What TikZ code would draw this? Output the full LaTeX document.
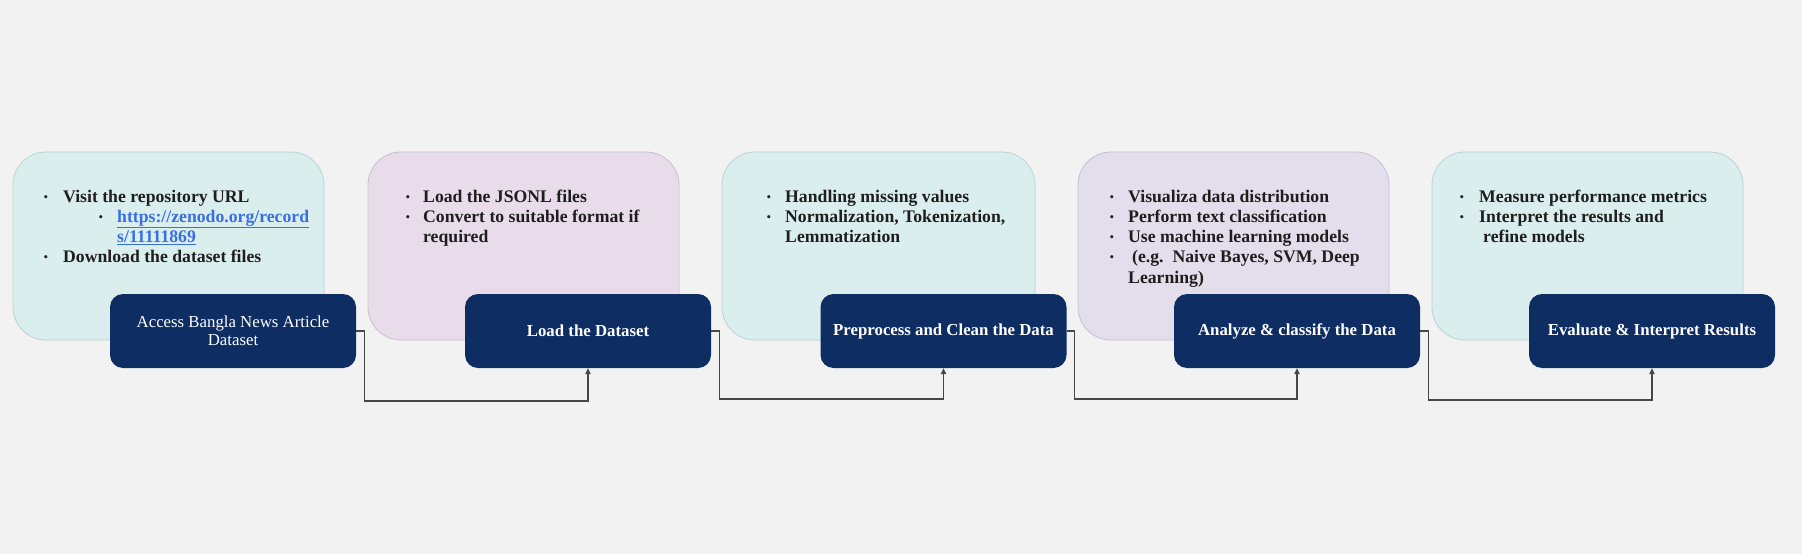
\documentclass[tikz,border=0pt]{standalone}
\usepackage{fontspec}
\setmainfont{Liberation Serif}
\usetikzlibrary{arrows.meta}
\definecolor{bgc}{HTML}{F2F2F2}
\definecolor{teal}{HTML}{DAEEED}
\definecolor{tealb}{HTML}{B8D4D4}
\definecolor{pinkc}{HTML}{E8DCEA}
\definecolor{pinkb}{HTML}{CDBDD2}
\definecolor{lavc}{HTML}{E3DEEC}
\definecolor{lavb}{HTML}{C8BFD8}
\definecolor{navy}{HTML}{0E2D63}
\definecolor{txt}{HTML}{1E1E1E}
\definecolor{linkc}{HTML}{3A6FE0}
\definecolor{connc}{HTML}{474747}
\newcommand{\pbul}{{\fontsize{13}{13}\selectfont\raisebox{1pt}{•}}}
\tikzset{
  panel/.style={rounded corners=33pt, line width=0.8pt},
  stage/.style={fill=navy, rounded corners=13pt, minimum width=246pt, minimum height=74pt,
    inner sep=0pt, text=white, align=center, font=\fontsize{16.8}{18}\selectfont\bfseries},
  bt/.style={anchor=base west, inner sep=0pt, text=txt, font=\fontsize{17.7}{20}\selectfont\bfseries},
  bd/.style={anchor=base, inner sep=0pt, text=txt},
  conn/.style={draw=connc, line width=1.3pt, -{Triangle[length=6pt,width=5.5pt]}}
}
\begin{document}
\begin{tikzpicture}[x=1pt,y=-1pt]
\fill[bgc] (0,0) rectangle (1802,554);
\useasboundingbox (0,0) rectangle (1802,554);
% panels
\draw[panel, fill=teal, draw=tealb] (13,152) rectangle (324,340);
\draw[panel, fill=pinkc, draw=pinkb] (368,152) rectangle (679,340);
\draw[panel, fill=teal, draw=tealb] (722,152) rectangle (1035,340);
\draw[panel, fill=lavc, draw=lavb] (1078,152) rectangle (1389,340);
\draw[panel, fill=teal, draw=tealb] (1432,152) rectangle (1743,340);
% panel 1 text
\node[bd] (d11) at (46,202) {\pbul};
\node[bt] (l11) at (63,202) {Visit the repository URL};
\node[bd] (d12) at (101,222.3) {\pbul};
\node[bt, text=linkc] (l12) at (117,222.3) {\underline{https://zenodo.org/record}};
\node[bt, text=linkc] (l13) at (117,242.6) {\underline{s/11111869}};
\node[bd] (d14) at (46,262.9) {\pbul};
\node[bt] (l14) at (63,262.9) {Download the dataset files};
% panel 2 text
\node[bd] (d21) at (408,202) {\pbul};
\node[bt] (l21) at (423,202) {Load the JSONL files};
\node[bd] (d22) at (408,222.3) {\pbul};
\node[bt] (l22) at (423,222.3) {Convert to suitable format if};
\node[bt] (l23) at (423,242.6) {required};
% panel 3 text
\node[bd] (d31) at (769,202) {\pbul};
\node[bt] (l31) at (785,202) {Handling missing values};
\node[bd] (d32) at (769,222.3) {\pbul};
\node[bt] (l32) at (785,222.3) {Normalization, Tokenization,};
\node[bt] (l33) at (785,242.6) {Lemmatization};
% panel 4 text
\node[bd] (d41) at (1112,202) {\pbul};
\node[bt] (l41) at (1128,202) {Visualiza data distribution};
\node[bd] (d42) at (1112,222.3) {\pbul};
\node[bt] (l42) at (1128,222.3) {Perform text classification};
\node[bd] (d43) at (1112,242.6) {\pbul};
\node[bt] (l43) at (1128,242.6) {Use machine learning models};
\node[bd] (d44) at (1112,262.9) {\pbul};
\node[bt] (l44) at (1132,262.9) {(e.g.\ \ Naive Bayes, SVM, Deep};
\node[bt] (l45) at (1128,283.2) {Learning)};
% panel 5 text
\node[bd] (d51) at (1462,202) {\pbul};
\node[bt] (l51) at (1479,202) {Measure performance metrics};
\node[bd] (d52) at (1462,222.3) {\pbul};
\node[bt] (l52) at (1479,222.3) {Interpret the results and};
\node[bt] (l53) at (1483,242.6) {refine models};
% stages
\node[stage, font=\fontsize{16.8}{18}\selectfont] (b1) at (233,331) {Access Bangla News Article\\Dataset};
\node[stage] (b2) at (588,331) {Load the Dataset};
\node[stage] (b3) at (943.5,331) {Preprocess and Clean the Data};
\node[stage] (b4) at (1297,331) {Analyze \& classify the Data};
\node[stage] (b5) at (1652,331) {Evaluate \& Interpret Results};
% connectors
\draw[conn] (b1.east) -- ++(8,0) -- ++(0,70) -| (b2.south);
\draw[conn] (b2.east) -- ++(8,0) -- ++(0,68) -| (b3.south);
\draw[conn] (b3.east) -- ++(8,0) -- ++(0,68) -| (b4.south);
\draw[conn] (b4.east) -- ++(8,0) -- ++(0,69) -| (b5.south);
\end{tikzpicture}
\end{document}
